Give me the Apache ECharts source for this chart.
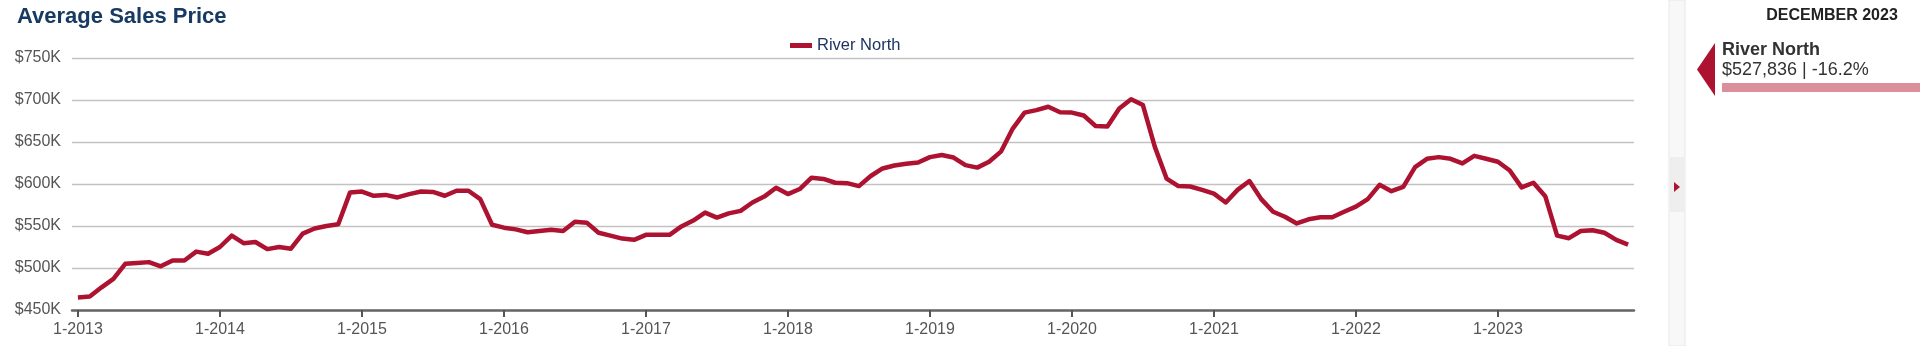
<!DOCTYPE html>
<html>
<head>
<meta charset="utf-8">
<script src="https://cdn.jsdelivr.net/npm/echarts@6/dist/echarts.min.js"></script>
<style>
  html, body { margin: 0; padding: 0; background: #ffffff; }
  #chart { width: 1920px; height: 346px; }
</style>
</head>
<body>
<div id="chart"></div>
<script>
// ---- Data (values in $K, monthly Jan 2013 – Dec 2023) ----
const years = [2013, 2014, 2015, 2016, 2017, 2018, 2019, 2020, 2021, 2022, 2023];
const seriesName = 'River North';
const v2013 = [465, 466, 477, 487, 505, 506, 507, 502, 509, 509, 519.5, 517];
const v2014 = [525, 538.5, 529.5, 531, 522.5, 525, 523, 541, 547, 550, 552, 590];
const v2015 = [591, 586, 587, 584, 588, 591, 590.5, 586, 592, 592, 582, 551.5];
const v2016 = [548, 546, 542.5, 544, 545.5, 544, 555, 554, 542, 538.5, 535, 533.5];
const v2017 = [539.5, 539.5, 539.5, 549.5, 556.5, 566, 560, 565, 568, 578, 585, 595.5];
const v2018 = [588, 594, 607.5, 606, 601.5, 601, 597.5, 609.5, 618.5, 622, 624, 625.5];
const v2019 = [632, 634.5, 631.5, 622.5, 619.5, 626.5, 638.5, 666, 685, 688, 692, 685.5];
const v2020 = [685, 681.5, 669, 668.5, 690, 701, 694, 644.5, 606.5, 597.5, 597, 593];
const v2021 = [588.5, 578, 593, 603.5, 582, 567, 561, 553, 558, 560.5, 560.5, 567];
const v2022 = [573, 582, 599, 591.5, 596.5, 620, 630, 632, 630, 624.5, 633.5, 630];
const v2023 = [626.5, 616, 596, 601.5, 585.5, 538.5, 535.5, 544, 545, 542, 533.5, 527.836];
const yTicks = [450, 500, 550, 600, 650, 700, 750];
const panelTitle = 'DECEMBER 2023';

const values = [].concat(v2013, v2014, v2015, v2016, v2017, v2018, v2019, v2020, v2021, v2022, v2023);
const categories = [];
years.forEach(function (y) { for (let m = 1; m <= 12; m++) categories.push(m + '-' + y); });

const last = values[values.length - 1];
const yearAgo = values[values.length - 13];
const pct = ((last / yearAgo) - 1) * 100;
const panelValue = '$' + Math.round(last * 1000).toLocaleString('en-US') + ' | ' + pct.toFixed(1) + '%';

const FONT = '"Liberation Sans", Arial, Helvetica, sans-serif';
const RED = '#ad1230';

const chart = echarts.init(document.getElementById('chart'), null, { renderer: 'canvas' });
chart.setOption({
  animation: false,
  backgroundColor: '#ffffff',
  textStyle: { fontFamily: FONT },
  title: {
    text: 'Average Sales Price',
    left: 12, top: 1,
    textStyle: { fontFamily: FONT, fontSize: 22, fontWeight: 'bold', color: '#173a62' }
  },
  legend: {
    data: [seriesName],
    left: 785, top: 32,
    icon: 'rect', itemWidth: 22, itemHeight: 5, itemGap: 10,
    textStyle: { fontFamily: FONT, fontSize: 16.5, color: '#1d3560', padding: [0, 0, 0, 0] }
  },
  grid: { left: 72, right: 286, top: 58, bottom: 36, containLabel: false },
  xAxis: {
    type: 'category',
    data: categories,
    boundaryGap: true,
    axisLine: { show: true, lineStyle: { color: '#666666', width: 2.5 } },
    axisTick: { show: true, alignWithLabel: true, interval: 11, length: 7, lineStyle: { color: '#555555', width: 2 } },
    axisLabel: { interval: 11, margin: 12, fontFamily: FONT, fontSize: 16, color: '#555555' },
    splitLine: { show: false }
  },
  yAxis: {
    type: 'value',
    min: yTicks[0], max: yTicks[yTicks.length - 1], interval: 50,
    axisLine: { show: false },
    axisTick: { show: false },
    axisLabel: { margin: 11, fontFamily: FONT, fontSize: 16, color: '#555555', padding: [7, 0, 0, 0],
      formatter: function (v) { return '$' + v + 'K'; } },
    splitLine: { show: true, lineStyle: { color: '#c2c2c2', width: 1.3 } }
  },
  series: [{
    name: seriesName,
    type: 'line',
    data: values,
    showSymbol: false,
    symbol: 'none',
    smooth: false,
    lineStyle: { color: RED, width: 4.5, join: 'round' },
    itemStyle: { color: RED }
  }],
  graphic: [
    { type: 'rect', shape: { x: 1669, y: 0, width: 16, height: 346 }, style: { fill: '#f8f8f8', stroke: '#e8e8e8', lineWidth: 1 }, silent: true },
    { type: 'rect', shape: { x: 1670, y: 157, width: 14, height: 55 }, style: { fill: '#eeeeee' }, silent: true },
    { type: 'polygon', shape: { points: [[1674, 182], [1680, 187], [1674, 192]] }, style: { fill: RED }, silent: true },
    { type: 'text', style: { text: panelTitle, x: 1832, y: 16, textAlign: 'center', textVerticalAlign: 'middle',
        fill: '#222222', font: 'bold 16px ' + FONT } },
    { type: 'polygon', shape: { points: [[1697, 69.5], [1715, 43], [1715, 96]] }, style: { fill: RED }, silent: true },
    { type: 'text', style: { text: seriesName, x: 1722, y: 50, textAlign: 'left', textVerticalAlign: 'middle',
        fill: '#333333', font: 'bold 18px ' + FONT } },
    { type: 'text', style: { text: panelValue, x: 1722, y: 70, textAlign: 'left', textVerticalAlign: 'middle',
        fill: '#333333', font: '18px ' + FONT } },
    { type: 'rect', shape: { x: 1722, y: 83, width: 198, height: 9 }, style: { fill: '#da8f9a' }, silent: true }
  ]
});
</script>
</body>
</html>
